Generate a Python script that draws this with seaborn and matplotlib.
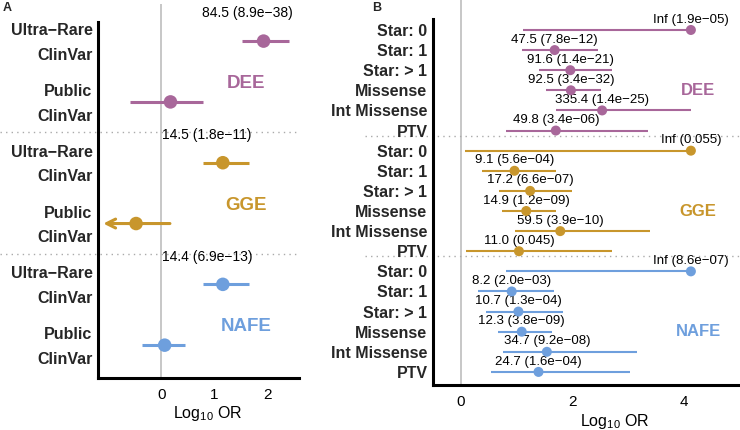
import numpy as np
import pandas as pd
import matplotlib
matplotlib.use('Agg')
import matplotlib.pyplot as plt
import matplotlib.transforms as mtransforms
import seaborn as sns

# couleurs des trois groupes
groups = ['DEE', 'GGE', 'NAFE']
colors = {'DEE': '#A8679A', 'GGE': '#C8962C', 'NAFE': '#6E9FDD'}

# panneau A : ClinVar ultra-rare vs public
a_group = ['DEE', 'DEE', 'GGE', 'GGE', 'NAFE', 'NAFE']
a_rows = ['Ultra−Rare\nClinVar', 'Public\nClinVar'] * 3
a_log_or = [1.93, 0.17, 1.16, -0.48, 1.16, 0.06]
a_lo = [1.53, -0.59, 0.78, -1.60, 0.78, -0.36]
a_hi = [2.42, 0.78, 1.66, 0.16, 1.66, 0.45]
a_text = ['84.5 (8.9e−38)', '', '14.5 (1.8e−11)', '', '14.4 (6.9e−13)', '']

# panneau B : par catégorie de variant
b_group = ['DEE'] * 6 + ['GGE'] * 6 + ['NAFE'] * 6
b_rows = ['Star: 0', 'Star: 1', 'Star: > 1', 'Missense', 'Int Missense', 'PTV'] * 3
b_log_or = [4.12, 1.68, 1.96, 1.97, 2.53, 1.70,
            4.12, 0.96, 1.24, 1.17, 1.78, 1.04,
            4.12, 0.91, 1.03, 1.09, 1.54, 1.39]
b_lo = [1.11, 1.09, 1.40, 1.52, 1.70, 0.81,
        0.07, 0.38, 0.68, 0.74, 0.97, 0.09,
        0.81, 0.31, 0.45, 0.66, 0.75, 0.54]
b_hi = [4.12, 2.45, 2.71, 2.51, 4.12, 3.35,
        4.12, 1.70, 1.99, 1.70, 3.39, 2.71,
        4.12, 1.67, 1.83, 1.63, 3.15, 3.03]
b_text = ['Inf (1.9e−05)', '47.5 (7.8e−12)', '91.6 (1.4e−21)', '92.5 (3.4e−32)', '335.4 (1.4e−25)', '49.8 (3.4e−06)',
          'Inf (0.055)', '9.1 (5.6e−04)', '17.2 (6.6e−07)', '14.9 (1.2e−09)', '59.5 (3.9e−10)', '11.0 (0.045)',
          'Inf (8.6e−07)', '8.2 (2.0e−03)', '10.7 (1.3e−04)', '12.3 (3.8e−09)', '34.7 (9.2e−08)', '24.7 (1.6e−04)']

sns.set_theme(style='white')
plt.rcParams['font.family'] = ['Liberation Sans', 'DejaVu Sans']
plt.rcParams['mathtext.fontset'] = 'custom'
plt.rcParams['mathtext.rm'] = 'Liberation Sans'

df_a = pd.DataFrame({'group': a_group, 'row': a_rows, 'x': a_log_or, 'lo': a_lo, 'hi': a_hi, 'txt': a_text})
df_a['y'] = np.arange(len(df_a))
df_b = pd.DataFrame({'group': b_group, 'row': b_rows, 'x': b_log_or, 'lo': b_lo, 'hi': b_hi, 'txt': b_text})
df_b['y'] = np.arange(len(df_b))

fig = plt.figure(figsize=(7.4, 4.3), dpi=100)
ax_a = fig.add_axes([98 / 740, 52 / 430, 201 / 740, 374 / 430])
ax_b = fig.add_axes([433 / 740, 45 / 430, 307 / 740, 385 / 430])


def style_axes(ax, xlim, ylim, spine_top, label_x):
    ax.set_xlim(*xlim)
    ax.set_ylim(*ylim)
    for s in ['top', 'right']:
        ax.spines[s].set_visible(False)
    for s in ['left', 'bottom']:
        ax.spines[s].set_color('black')
        ax.spines[s].set_linewidth(2.2)
    ax.spines['left'].set_bounds(ylim[0], spine_top)
    ax.tick_params(axis='y', length=0, pad=4, labelsize=11.5)
    ax.tick_params(axis='x', length=3, width=1, color='black', pad=4, labelsize=11, labelcolor='black')
    for lab in ax.get_yticklabels():
        lab.set_fontweight('bold')
    ax.set_xlabel('Log$_{10}$ OR', fontsize=11.5, color='black')
    ax.xaxis.set_label_coords(label_x, -0.094)
    ax.xaxis.label.set_va('center')
    ax.set_ylabel('')
    ax.grid(False)


# ---- panneau A ----
ax = ax_a
ax.axvline(0, color='#BDBDBD', lw=1.2, zorder=0)
for _, r in df_a.iterrows():
    c = colors[r['group']]
    if r['lo'] < -1.2:
        ax.annotate('', xy=(-1.1, r['y']), xytext=(r['hi'], r['y']),
                    arrowprops=dict(arrowstyle='->', color=c, lw=2.2, mutation_scale=16,
                                    shrinkA=0, shrinkB=0))
    else:
        ax.hlines(r['y'], r['lo'], r['hi'], color=c, lw=2.2, zorder=2)
    if r['txt']:
        ax.annotate(r['txt'], (r['x'] - 0.3, r['y']), xytext=(0, 20), textcoords='offset points',
                    ha='center', va='center', fontsize=10, color='black')
sns.scatterplot(data=df_a, x='x', y='y', hue='group', palette=colors, s=95,
                edgecolor='none', legend=False, ax=ax, zorder=3)
for i, g in enumerate(groups):
    ax.text(1.6, 2 * i + 0.7, g, color=colors[g], fontsize=13.5, fontweight='bold',
            ha='center', va='center')
trans = mtransforms.blended_transform_factory(ax.transAxes, ax.transData)
for yy in [1.5, 3.5]:
    ax.plot([-0.49, 1], [yy, yy], transform=trans, color='#AAAAAA', lw=1,
            ls=(0, (1, 3)), clip_on=False, zorder=0)
ax.set_yticks(df_a['y'])
ax.set_yticklabels(df_a['row'], linespacing=1.8)
ax.set_xticks([0, 1, 2])
style_axes(ax, (-1.2, 2.6), (5.54, -0.61), -0.31, 0.547)
# petit décalage vers le haut des étiquettes sur deux lignes
shift = mtransforms.ScaledTranslation(0, 4.5 / 100, fig.dpi_scale_trans)
for lab in ax.get_yticklabels():
    lab.set_transform(lab.get_transform() + shift)

# ---- panneau B ----
ax = ax_b
ax.axvline(0, color='#BDBDBD', lw=1.2, zorder=0)
for _, r in df_b.iterrows():
    c = colors[r['group']]
    ax.hlines(r['y'], r['lo'], r['hi'], color=c, lw=1.5, zorder=2)
    ax.annotate(r['txt'], (r['x'], r['y']), xytext=(0, 7.5), textcoords='offset points',
                ha='center', va='center', fontsize=9.5, color='black')
sns.scatterplot(data=df_b, x='x', y='y', hue='group', palette=colors, s=52,
                edgecolor='none', legend=False, ax=ax, zorder=3)
for i, g in enumerate(groups):
    ax.text(4.25, 6 * i + 3, g, color=colors[g], fontsize=12, fontweight='bold',
            ha='center', va='center')
trans = mtransforms.blended_transform_factory(ax.transAxes, ax.transData)
for yy in [5.25, 11.25]:
    ax.plot([-0.22, 1], [yy, yy], transform=trans, color='#AAAAAA', lw=1,
            ls=(0, (1, 3)), clip_on=False, zorder=0)
ax.set_yticks(df_b['y'])
ax.set_yticklabels(df_b['row'])
ax.set_xticks([0, 2, 4])
style_axes(ax, (-0.5, 5.0), (17.65, -1.49), -0.55, 0.593)

# lettres des panneaux
fig.text(3 / 740, 1 - 8 / 430, 'A', fontsize=9, fontweight='bold', va='center', ha='left')
fig.text(372 / 740, 1 - 8 / 430, 'B', fontsize=9, fontweight='bold', va='center', ha='left')

fig.savefig('out.png', dpi=100)
